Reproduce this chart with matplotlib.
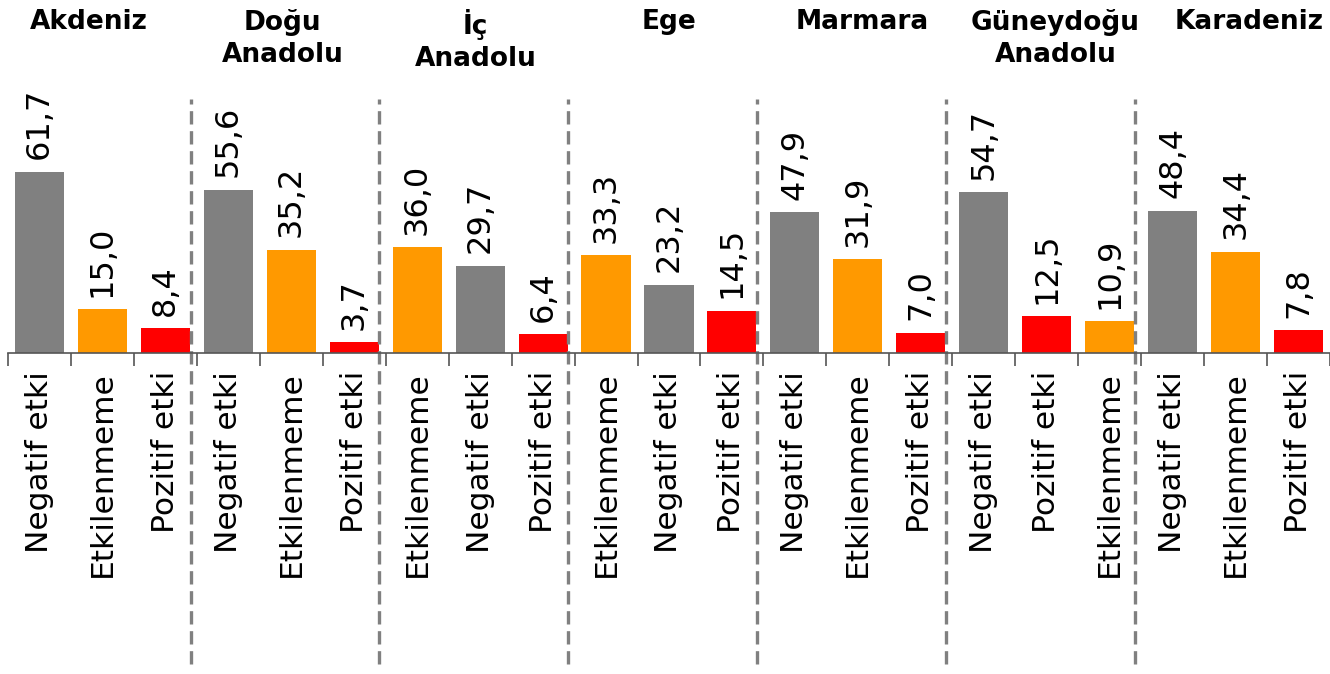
import numpy as np
import matplotlib.pyplot as plt

# data
regions = ["Akdeniz", "Doğu\nAnadolu", "İç\nAnadolu", "Ege", "Marmara",
           "Güneydoğu\nAnadolu", "Karadeniz"]
categories = [
    ["Negatif etki", "Etkilenmeme", "Pozitif etki"],
    ["Negatif etki", "Etkilenmeme", "Pozitif etki"],
    ["Etkilenmeme", "Negatif etki", "Pozitif etki"],
    ["Etkilenmeme", "Negatif etki", "Pozitif etki"],
    ["Negatif etki", "Etkilenmeme", "Pozitif etki"],
    ["Negatif etki", "Pozitif etki", "Etkilenmeme"],
    ["Negatif etki", "Etkilenmeme", "Pozitif etki"],
]
values = [
    [61.7, 15.0, 8.4],
    [55.6, 35.2, 3.7],
    [36.0, 29.7, 6.4],
    [33.3, 23.2, 14.5],
    [47.9, 31.9, 7.0],
    [54.7, 12.5, 10.9],
    [48.4, 34.4, 7.8],
]
colors = {"Negatif etki": "#808080", "Etkilenmeme": "#FF9900", "Pozitif etki": "#FF0000"}

labels = [c for grp in categories for c in grp]
vals = [v for grp in values for v in grp]
x = np.arange(len(vals))

fig = plt.figure(figsize=(13.3, 6.74), dpi=100)
ax = fig.add_axes([0.006, 0.476, 0.994, 0.524])

bars = ax.bar(x, vals, width=0.78, color=[colors[l] for l in labels])
for b, v in zip(bars, vals):
    ax.annotate(f"{v:.1f}".replace(".", ","), (b.get_x() + b.get_width() / 2, v),
                xytext=(0, 9), textcoords="offset points", rotation=90,
                ha="center", va="bottom", fontsize=23)

ax.set_xlim(-0.5, len(vals) - 0.5)
ax.set_ylim(0, 120)
ax.set_yticks([])
for s in ["top", "right", "left"]:
    ax.spines[s].set_visible(False)
ax.spines["bottom"].set_color("#555555")
ax.spines["bottom"].set_linewidth(1.2)

ax.set_xticks(x)
ax.set_xticklabels(labels, rotation=90, fontsize=22.5, va="top")
ax.tick_params(axis="x", which="major", length=0, pad=13)
ax.set_xticks(np.arange(len(vals) + 1) - 0.5, minor=True)
ax.tick_params(axis="x", which="minor", length=9, color="#555555", width=1.2)

# separators and region titles
for i, r in enumerate(regions):
    ax.text(3 * i + 1 + (i - 3) * 0.07, 0.975, r, transform=ax.get_xaxis_transform(),
            ha="center", va="top", fontsize=19, fontweight="bold",
            linespacing=1.3)
    if i > 0:
        ax.axvline(3 * i - 0.6, ymin=-0.88, ymax=0.72, color="#808080",
                   lw=2.4, ls=(0, (4, 2)), clip_on=False)

fig.savefig("out.png", dpi=100)
